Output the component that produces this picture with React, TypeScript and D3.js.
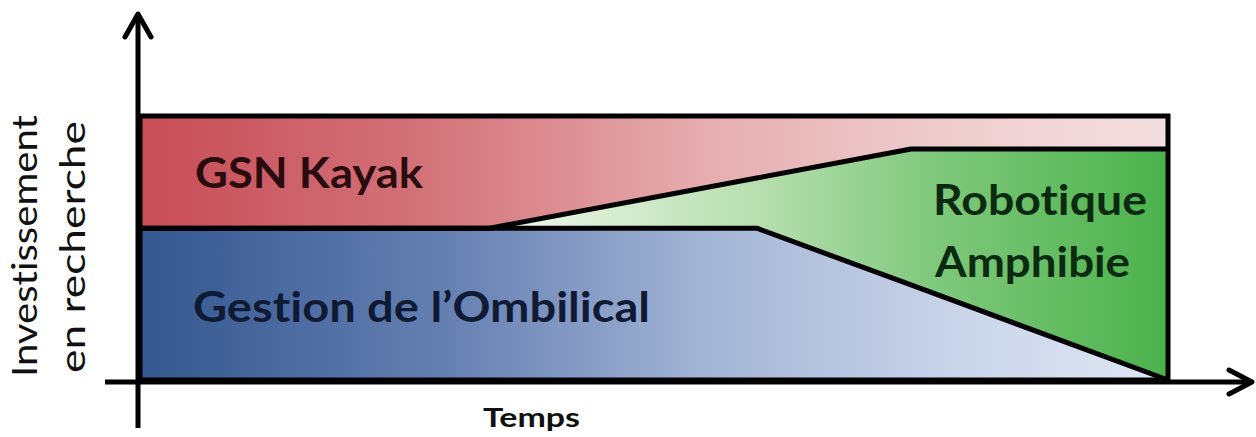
import React from "react";
import * as d3 from "d3";

// ---- data ----
const TIME = [0, 34, 60, 75, 100];
const OMBILICAL = [57.5, 57.5, 57.5, 36, 0];
const AMPHIBIE = [0, 0, 19, 51.5, 87.5];
const KAYAK = [42.5, 42.5, 23.5, 12.5, 12.5];
const SERIES_KEYS = ["ombilical", "amphibie", "kayak"];
const X_LABEL = "Temps";
const Y_LABEL_1 = "Investissement";
const Y_LABEL_2 = "en recherche";

const W = 1256;
const H = 437;
const X0 = 140;
const X1 = 1168;
const Y0 = 380;
const Y1 = 116;

export default function App() {
  const x = d3.scaleLinear().domain([0, 100]).range([X0, X1]);
  const y = d3.scaleLinear().domain([0, 100]).range([Y0, Y1]);

  const rows = TIME.map((t, i) => ({
    t,
    ombilical: OMBILICAL[i],
    amphibie: AMPHIBIE[i],
    kayak: KAYAK[i],
  }));
  const stacked = d3.stack<any>().keys(SERIES_KEYS)(rows);
  const area = d3
    .area<any>()
    .x((d) => x(d.data.t))
    .y0((d) => y(d[0]))
    .y1((d) => y(d[1]))
    .curve(d3.curveLinear);
  const line = d3
    .line<any>()
    .x((d) => x(d.data.t))
    .y((d) => y(d[1]));

  const fills: Record<string, string> = {
    ombilical: "url(#gBlue)",
    amphibie: "url(#gGreen)",
    kayak: "url(#gRed)",
  };

  const outline = d3.path();
  outline.rect(x(0), y(100), x(100) - x(0), y(0) - y(100));

  const noLig = { fontVariantLigatures: "none" as const, fontFeatureSettings: "'liga' 0" };

  return (
    <svg
      width={W}
      height={H}
      style={{ position: "absolute", left: 0, top: 0, background: "#fff" }}
    >
      <defs>
        <linearGradient id="gBlue" gradientUnits="userSpaceOnUse" x1={X0} x2={X1} y1={0} y2={0}>
          <stop offset="0" stopColor="#34578f" />
          <stop offset="0.3" stopColor="#6680b2" />
          <stop offset="0.55" stopColor="#a3b4d5" />
          <stop offset="0.8" stopColor="#cbd5ea" />
          <stop offset="1" stopColor="#dfe6f3" />
        </linearGradient>
        <linearGradient id="gRed" gradientUnits="userSpaceOnUse" x1={X0} x2={X1} y1={0} y2={0}>
          <stop offset="0" stopColor="#c74d57" />
          <stop offset="0.28" stopColor="#d3737a" />
          <stop offset="0.55" stopColor="#e6adb0" />
          <stop offset="0.8" stopColor="#efcfd0" />
          <stop offset="1" stopColor="#f3dfe0" />
        </linearGradient>
        <linearGradient id="gGreen" gradientUnits="userSpaceOnUse" x1={x(34)} x2={X1} y1={0} y2={0}>
          <stop offset="0" stopColor="#f1f8ef" />
          <stop offset="0.4" stopColor="#b6deae" />
          <stop offset="0.65" stopColor="#80c97d" />
          <stop offset="1" stopColor="#4bb24b" />
        </linearGradient>
      </defs>

      {stacked.map((s) => (
        <path key={s.key} d={area(s as any) || ""} fill={fills[s.key]} stroke="none" />
      ))}

      {/* boundary lines */}
      {stacked.slice(0, 2).map((s) => (
        <path
          key={"l" + s.key}
          d={line(s as any) || ""}
          fill="none"
          stroke="#000"
          strokeWidth={5}
          strokeLinejoin="round"
        />
      ))}
      <path d={outline.toString()} fill="none" stroke="#000" strokeWidth={5} />

      {/* axes */}
      <line x1={138} y1={428} x2={138} y2={16} stroke="#000" strokeWidth={5} />
      <polyline points="125,37 138,14 151,37" fill="none" stroke="#000" strokeWidth={5} strokeLinecap="round" strokeLinejoin="round" />
      <line x1={105} y1={382} x2={1250} y2={382} stroke="#000" strokeWidth={5} />
      <polyline points="1229,370 1252,382 1229,394" fill="none" stroke="#000" strokeWidth={5} strokeLinecap="round" strokeLinejoin="round" />

      {/* area labels */}
      <g fontFamily="Lato, 'Open Sans', sans-serif" fontWeight="bold" fontSize={42} style={noLig}>
        <text x={195} y={188} textLength={228} lengthAdjust="spacingAndGlyphs" fill="#2b0c0e">
          GSN Kayak
        </text>
        <text x={193} y={322} textLength={457} lengthAdjust="spacingAndGlyphs" fill="#0f1a35">
          Gestion de l’Ombilical
        </text>
        <text x={933} y={215} textLength={214} lengthAdjust="spacingAndGlyphs" fill="#0c2a10">
          Robotique
        </text>
        <text x={935} y={277} textLength={195} lengthAdjust="spacingAndGlyphs" fill="#0c2a10">
          Amphibie
        </text>
      </g>

      {/* axis labels */}
      <text
        x={483}
        y={427}
        fontFamily="Lato, 'Open Sans', sans-serif"
        fontWeight="bold"
        fontSize={27}
        textLength={97}
        lengthAdjust="spacingAndGlyphs"
        fill="#111"
        style={noLig}
      >
        {X_LABEL}
      </text>
      <g fontFamily="Lato, 'Open Sans', sans-serif" fontSize={35} fill="#111" style={noLig}>
        <text
          transform="translate(37,246) rotate(-90)"
          textAnchor="middle"
          textLength={262}
          lengthAdjust="spacingAndGlyphs"
        >
          {Y_LABEL_1}
        </text>
        <text
          transform="translate(85,247) rotate(-90)"
          textAnchor="middle"
          textLength={252}
          lengthAdjust="spacingAndGlyphs"
        >
          {Y_LABEL_2}
        </text>
      </g>
    </svg>
  );
}
